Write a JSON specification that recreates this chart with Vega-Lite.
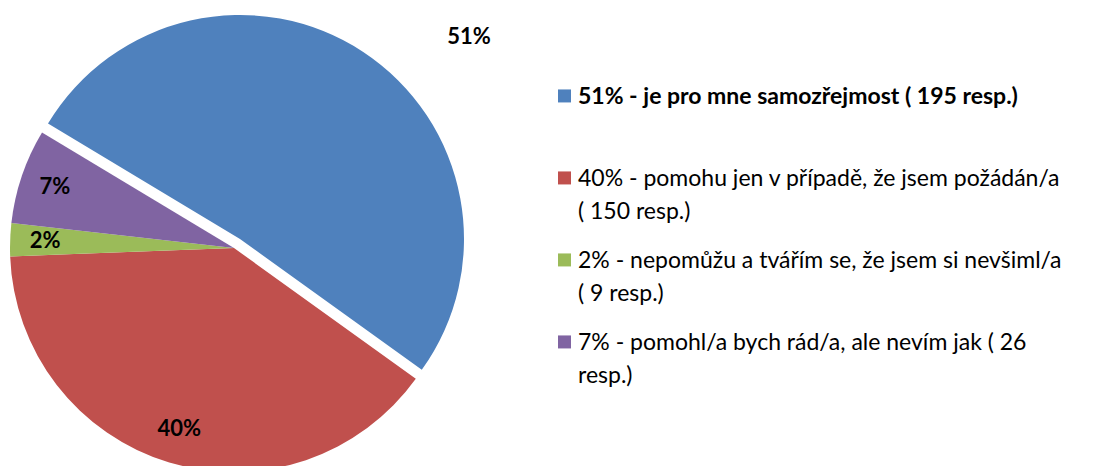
{
  "$schema": "https://vega.github.io/schema/vega-lite/v6.json",
  "padding": 0,
  "background": "white",
  "spacing": 90,
  "bounds": "flush",
  "config": {"view": {"stroke": null}, "font": "Lato"},
  "datasets": {
    "resp": [
      {"idx": 1, "cat": "je pro mne samozřejmost", "count": 195, "pct": "51%", "legend": ["51% - je pro mne samozřejmost ( 195 resp.)"]},
      {"idx": 2, "cat": "pomohu jen v případě, že jsem požádán/a", "count": 150, "pct": "40%", "legend": ["40% - pomohu jen v případě, že jsem požádán/a", "( 150 resp.)"]},
      {"idx": 3, "cat": "nepomůžu a tvářím se, že jsem si nevšiml/a", "count": 9, "pct": "2%", "legend": ["2% - nepomůžu a tvářím se, že jsem si nevšiml/a", "( 9 resp.)"]},
      {"idx": 4, "cat": "pomohl/a bych rád/a, ale nevím jak", "count": 26, "pct": "7%", "legend": ["7% - pomohl/a bych rád/a, ale nevím jak ( 26", "resp.)"]}
    ]
  },
  "hconcat": [
    {
      "width": 468,
      "height": 496,
      "data": {"name": "resp"},
      "encoding": {
        "theta": {"field": "count", "type": "quantitative", "stack": true, "scale": {"range": [-1.0296, 5.2536]}},
        "order": {"field": "idx", "type": "quantitative"},
        "color": {
          "field": "cat", "type": "nominal",
          "scale": {
            "domain": ["je pro mne samozřejmost", "pomohu jen v případě, že jsem požádán/a", "nepomůžu a tvářím se, že jsem si nevšiml/a", "pomohl/a bych rád/a, ale nevím jak"],
            "range": ["#4F81BD", "#C0504D", "#9BBB59", "#8064A2"]
          },
          "legend": null
        }
      },
      "layer": [
        {
          "mark": {"type": "arc", "outerRadius": 224},
          "encoding": {"opacity": {"condition": {"test": "datum.idx === 1", "value": 0}, "value": 1}}
        },
        {
          "mark": {"type": "arc", "outerRadius": 224, "xOffset": 6, "yOffset": -9},
          "encoding": {"opacity": {"condition": {"test": "datum.idx === 1", "value": 1}, "value": 0}}
        },
        {
          "mark": {"type": "text", "radius": 189, "fontSize": 22, "fontWeight": "bold"},
          "encoding": {
            "color": {"value": "#000000"},
            "text": {"condition": {"test": "datum.idx === 1", "value": ""}, "field": "pct"}
          }
        },
        {
          "mark": {"type": "text", "radius": 253, "dx": 74, "align": "left", "fontSize": 22, "fontWeight": "bold"},
          "encoding": {
            "color": {"value": "#000000"},
            "text": {"condition": {"test": "datum.idx !== 1", "value": ""}, "field": "pct"}
          }
        }
      ]
    },
    {
      "width": 13,
      "height": 410,
      "data": {"name": "resp"},
      "encoding": {
        "y": {
          "field": "cat", "type": "nominal",
          "sort": ["je pro mne samozřejmost", "pomohu jen v případě, že jsem požádán/a", "nepomůžu a tvářím se, že jsem si nevšiml/a", "pomohl/a bych rád/a, ale nevím jak"],
          "scale": {"type": "point", "padding": 1, "align": 0.585},
          "axis": null
        }
      },
      "layer": [
        {
          "mark": {"type": "point", "shape": "square", "filled": true, "size": 169, "opacity": 1},
          "encoding": {"color": {"field": "cat", "type": "nominal", "legend": null}}
        },
        {
          "transform": [{"filter": "datum.idx === 1"}],
          "mark": {"type": "text", "align": "left", "baseline": "alphabetic", "dx": 13.5, "dy": 8, "fontSize": 23, "lineHeight": 33, "fontWeight": "bold", "color": "#000000"},
          "encoding": {"text": {"field": "legend"}}
        },
        {
          "transform": [{"filter": "datum.idx !== 1"}],
          "mark": {"type": "text", "align": "left", "baseline": "alphabetic", "dx": 13.5, "dy": 8, "fontSize": 23, "lineHeight": 33, "color": "#000000"},
          "encoding": {"text": {"field": "legend"}}
        }
      ]
    }
  ]
}
